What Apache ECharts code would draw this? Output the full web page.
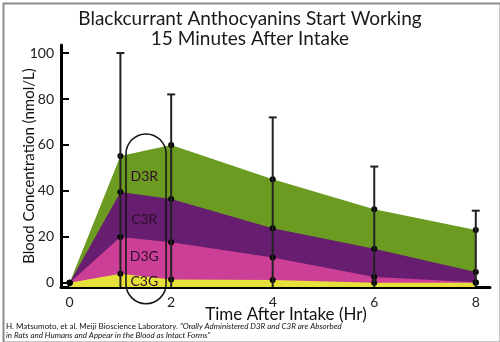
<!DOCTYPE html>
<html>
<head>
<meta charset="utf-8">
<script src="https://cdn.jsdelivr.net/npm/echarts@6/dist/echarts.min.js"></script>
<style>
html,body{margin:0;padding:0;background:#fff;}
#c{width:500px;height:342px;}
</style>
</head>
<body>
<div id="c"></div>
<script>
// ---- data ----
const hours = [0, 1, 2, 4, 6, 8];
const c3g = [0, 4, 1.5, 1.2, 0, 0];
const d3g = [0, 16, 16.2, 9.8, 2.6, 0.3];
const c3r = [0, 19.5, 18.8, 12.8, 12.2, 4.4];
const d3r = [0, 15.7, 23.5, 21.3, 17.2, 18.3];
const errTop = [null, 100, 82, 72, 50.6, 31.4];
const seriesNames = ['C3G', 'D3G', 'C3R', 'D3R'];
const yTickValues = [0, 20, 40, 60, 80, 100];
const xTickValues = [0, 2, 4, 6, 8];
const labelPos = [[1.47, 0.6], [1.47, 11.4], [1.47, 27.7], [1.47, 46.2]];

const FONT = 'Lato';
const colors = ['#e6e13a', '#cc3f97', '#681e70', '#6b9b21'];
const Y_MIN = -1.8, Y_MAX = 103.5, X_MIN = -0.17, X_MAX = 8.28;

const chart = echarts.init(document.getElementById('c'), null, {renderer: 'canvas'});

// cumulative totals (stack built from the component arrays)
const valueSets = [c3g, d3g, c3r, d3r];
const cumulative = [];
valueSets.forEach((vals, i) => {
  cumulative.push(vals.map((v, j) => v + (i > 0 ? cumulative[i - 1][j] : 0)));
});

// draw the tallest layer first so lower layers sit on top of it
const areaSeries = [];
for (let i = valueSets.length - 1; i >= 0; i--) {
  areaSeries.push({
    name: seriesNames[i],
    type: 'line',
    data: hours.map((h, j) => [h, cumulative[i][j]]),
    symbol: 'circle',
    symbolSize: 6,
    showSymbol: true,
    itemStyle: {color: '#000'},
    lineStyle: {width: 0},
    areaStyle: {color: colors[i], opacity: 1, origin: 'start'},
    z: 2,
    silent: true,
    animation: false
  });
}

const errData = hours.map((h, j) => [h, errTop[j]]).filter(d => d[1] !== null);

const errSeries = {
  type: 'custom',
  data: errData,
  z: 3,
  silent: true,
  animation: false,
  renderItem: function (params, api) {
    const top = api.coord([api.value(0), api.value(1)]);
    const bottom = params.coordSys.y + params.coordSys.height;
    const hw = 4;
    return {
      type: 'group',
      children: [
        {type: 'line', shape: {x1: top[0], y1: bottom, x2: top[0], y2: top[1]}, style: {stroke: '#222', lineWidth: 2}},
        {type: 'line', shape: {x1: top[0] - hw, y1: top[1], x2: top[0] + hw, y2: top[1]}, style: {stroke: '#222', lineWidth: 2}}
      ]
    };
  }
};

chart.setOption({
  animation: false,
  backgroundColor: '#fff',
  title: {
    text: 'Blackcurrant Anthocyanins Start Working\n15 Minutes After Intake',
    left: 'center',
    top: 4,
    textStyle: {fontFamily: FONT, fontSize: 19, fontWeight: 'normal', color: '#1a1a1a', lineHeight: 20}
  },
  grid: {left: 61, right: 10, top: 45, bottom: 55},
  xAxis: {
    type: 'value',
    min: X_MIN, max: X_MAX,
    splitLine: {show: false},
    axisLine: {show: true, onZero: false, lineStyle: {color: '#000', width: 3}},
    axisTick: {show: false},
    axisLabel: {customValues: xTickValues, fontFamily: FONT, fontSize: 14, color: '#222', margin: 8}
  },
  yAxis: {
    type: 'value',
    min: Y_MIN, max: Y_MAX,
    splitLine: {show: false},
    axisLine: {show: true, onZero: false, lineStyle: {color: '#000', width: 3}},
    axisTick: {show: true, inside: true, length: 8, customValues: yTickValues, lineStyle: {color: '#000', width: 2}},
    axisLabel: {customValues: yTickValues, fontFamily: FONT, fontSize: 14, color: '#222', margin: 7},
    name: 'Blood Concentration (nmol/L)',
    nameLocation: 'middle',
    nameGap: 24,
    nameMoveOverlap: false,
    nameTextStyle: {fontFamily: FONT, fontSize: 15, color: '#111'}
  },
  series: areaSeries.concat([errSeries])
});

// annotations placed via the axes
const p = (x, y) => chart.convertToPixel({gridIndex: 0}, [x, y]);
const tl = p(1.11, 64.8), br = p(1.9, -9.1);
const gfx = [
  {type: 'rect', left: 1, top: 1, shape: {x: 0, y: 0, width: 497, height: 339}, style: {fill: null, stroke: '#8c8c8c', lineWidth: 2}, z: 100, silent: true},
  {type: 'rect', shape: {x: tl[0], y: tl[1], width: br[0] - tl[0], height: br[1] - tl[1], r: (br[0] - tl[0]) / 2}, style: {fill: null, stroke: '#111', lineWidth: 1.5}, z: 50, silent: true},
  {type: 'text', x: 286, y: 315, style: {text: 'Time After Intake (Hr)', fontFamily: FONT, fontSize: 17, fill: '#111', align: 'center', verticalAlign: 'middle'}, z: 60, silent: true}
];
labelPos.forEach((lp, i) => {
  const q = p(lp[0], lp[1]);
  gfx.push({type: 'text', x: q[0], y: q[1], style: {text: seriesNames[i], fontFamily: FONT, fontSize: 14, fill: '#2a0f2a', align: 'center', verticalAlign: 'middle'}, z: 60, silent: true});
});
gfx.push({
  type: 'text', left: 6, top: 322, z: 60, silent: true,
  style: {
    text: '{n|H. Matsumoto, et al. Meiji Bioscience Laboratory. }{i|"Orally Administered D3R and C3R are Absorbed}\n{i|in Rats and Humans and Appear in the Blood as Intact Forms"}',
    rich: {
      n: {fontFamily: FONT, fontSize: 8, fill: '#111', lineHeight: 9},
      i: {fontFamily: FONT, fontSize: 8, fontStyle: 'italic', fill: '#111', lineHeight: 9}
    }
  }
});
chart.setOption({graphic: gfx});
</script>
</body>
</html>
